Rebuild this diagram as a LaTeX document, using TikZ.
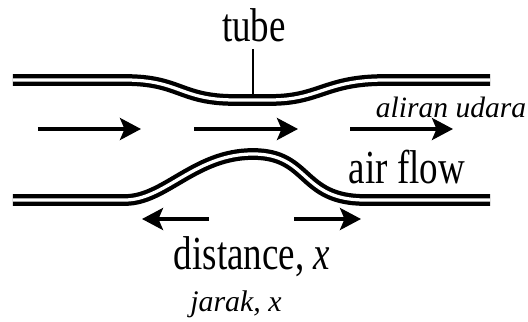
\documentclass[tikz,border=0pt]{standalone}
\usepackage{fontspec}
\setmainfont{Liberation Serif}
\newfontfamily\tallfont[FakeStretch=0.78]{Liberation Serif}
\usetikzlibrary{arrows.meta,positioning}

\begin{document}
\begin{tikzpicture}[
    wall/.style={line width=0.085cm, double, double distance=0.065cm},
    flow/.style={line width=0.07cm, -{Stealth[length=0.42cm,width=0.44cm,inset=0.09cm]}},
    biglabel/.style={inner sep=0pt, font=\tallfont\fontsize{27}{30}\selectfont},
    smalllabel/.style={inner sep=0pt, font=\itshape\fontsize{16.8}{20}\selectfont}
]
    \useasboundingbox (0,0) rectangle (10.56,6.44);

    % Tube walls
    \draw[wall] (0.26,4.84) -- (2.5,4.84) .. controls (3.6,4.84) and (3.6,4.44) .. (4.7,4.44)
        -- (5.4,4.44) .. controls (6.4,4.44) and (6.5,4.84) .. (7.7,4.84) -- (9.8,4.84);
    \draw[wall] (0.26,2.44) -- (2.5,2.44) .. controls (3.3,2.44) and (3.9,3.36) .. (5.06,3.36)
        .. controls (6.2,3.36) and (6.0,2.44) .. (7.3,2.44) -- (9.8,2.44);

    % Labels
    \node[biglabel] (tube) at (5.08,5.94) {tube};
    \node[biglabel] (airflow) at (8.14,3.1) {air flow};
    \node[biglabel] (distance) at (5.04,1.3) {distance, {\itshape x}};
    \node[smalllabel] (aliran) at (9.02,4.3) {aliran udara};
    \node[smalllabel, font=\itshape\fontsize{17}{20}\selectfont] (jarak) at (4.72,0.36) {jarak, x};

    % Pointer to the tube
    \coordinate (tubewall) at (5.06,4.5);
    \draw[line width=0.05cm] (tube.south -| tubewall) ++(0,-0.14) -- (tubewall);

    % Air flow
    \draw[flow] (0.76,3.86) -- (2.82,3.86);
    \draw[flow] (3.88,3.86) -- (5.96,3.86);
    \draw[flow] (7.0,3.86) -- (9.06,3.86);

    % Distance
    \draw[flow] (4.18,2.06) -- (2.84,2.06);
    \draw[flow] (5.88,2.06) -- (7.22,2.06);
\end{tikzpicture}
\end{document}
